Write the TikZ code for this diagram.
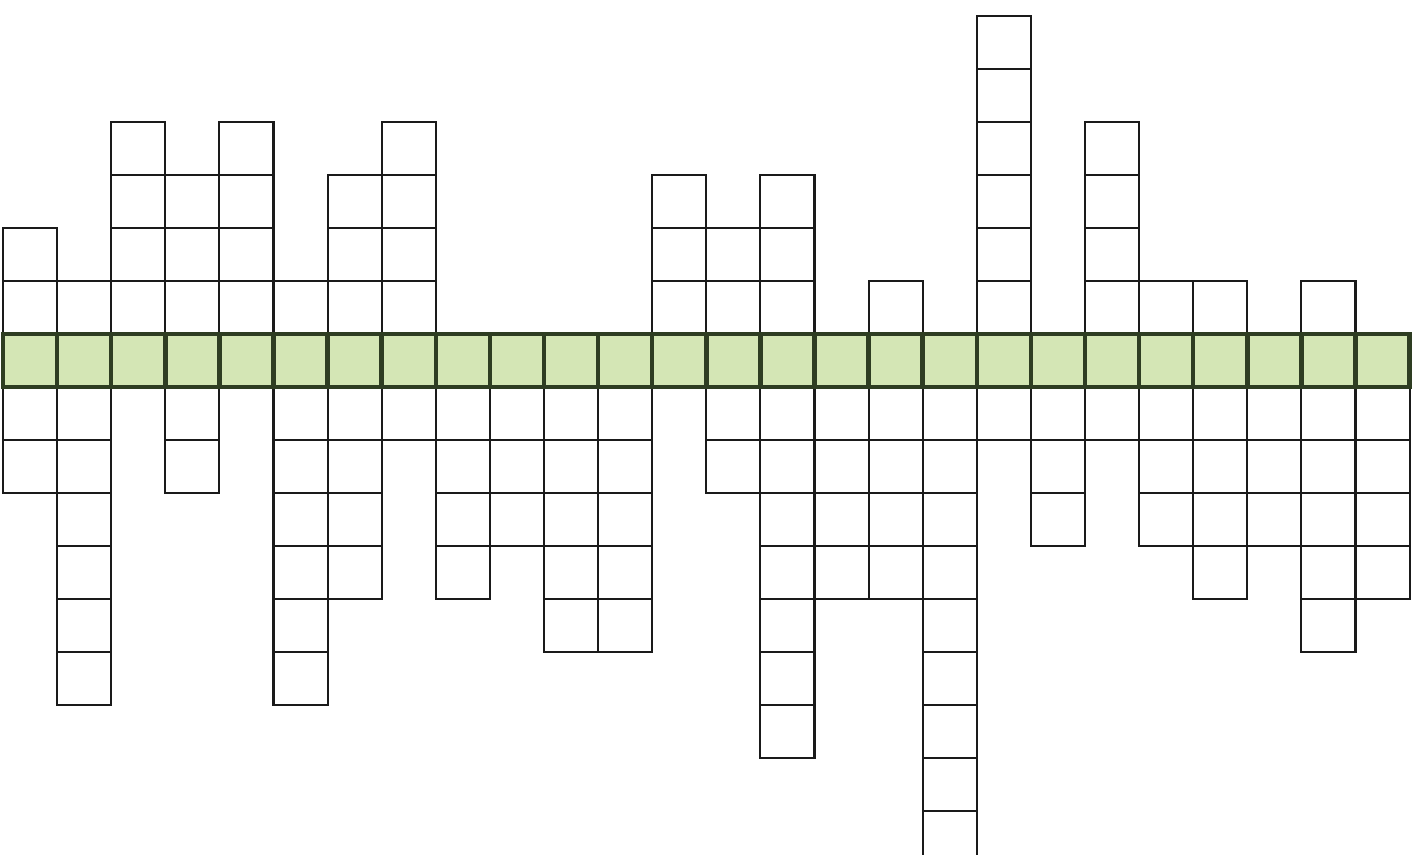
\documentclass[tikz,border=0pt]{standalone}
\usepackage{xcolor}
\usepackage{tikz}
\definecolor{cwLine}{HTML}{1A1A1A}
\definecolor{cwKey}{HTML}{D4E6B5}
\definecolor{cwKeyLine}{HTML}{2E3D22}
\tikzset{
  cell/.style={draw=cwLine, line width=1.1pt},
  keycell/.style={draw=cwKeyLine, line width=2.4pt, fill=cwKey}
}
\begin{document}
\begin{tikzpicture}[x=1cm, y=0.98cm]
  \useasboundingbox (-0.055,-8.81) rectangle (26.10,7.30);
  \clip (-0.055,-8.81) rectangle (26.10,7.30);
  % vertical words: column / cells above / cells below the key row
  \foreach \col/\up/\down in {0/2/2, 1/1/6, 2/4/0, 3/3/2, 4/4/0, 5/1/6, 6/3/4,
      7/4/1, 8/0/4, 9/0/3, 10/0/5, 11/0/5, 12/3/0, 13/2/2, 14/3/7, 15/0/4,
      16/1/4, 17/0/9, 18/6/1, 19/0/3, 20/4/1, 21/1/3, 22/1/4, 23/0/3,
      24/1/5, 25/0/4} {
    \ifnum\up>0
      \foreach \r in {1,...,\up} {\draw[cell] (\col,\r) rectangle ++(1,1);}
    \fi
    \ifnum\down>0
      \foreach \r in {1,...,\down} {\draw[cell] (\col,-\r) rectangle ++(1,1);}
    \fi
  }
  % key row
  \foreach \col in {0,...,25} {\draw[keycell] (\col,0) rectangle ++(1,1);}
\end{tikzpicture}
\end{document}
